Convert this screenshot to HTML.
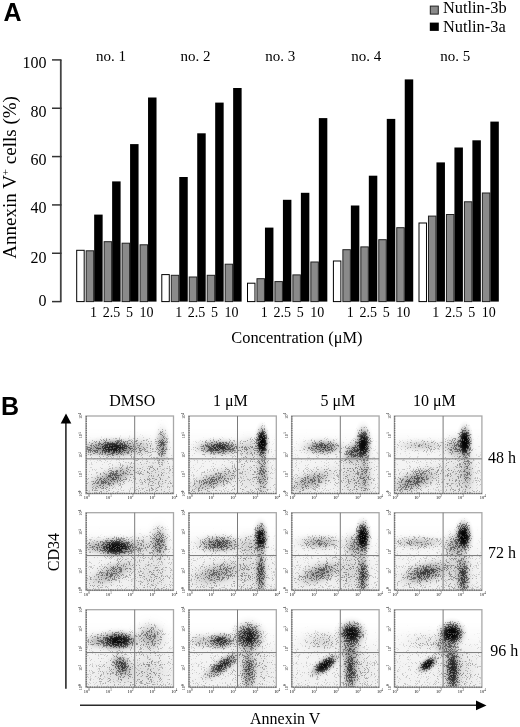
<!DOCTYPE html>
<html><head><meta charset="utf-8"><style>
html,body{margin:0;padding:0;background:#fff;}
body{width:520px;height:727px;overflow:hidden;position:relative;}
svg{position:absolute;left:0;top:0;filter:blur(0.3px);}
text{font-family:"Liberation Serif",serif;fill:#000;}
.sans{font-family:"Liberation Sans",sans-serif;font-weight:bold;}
</style></head><body>
<svg width="520" height="727" viewBox="0 0 520 727"><defs><filter id="bl" x="-5%" y="-5%" width="110%" height="110%"><feGaussianBlur stdDeviation="0.45"/></filter><radialGradient id="gg"><stop offset="0.0" stop-color="#000" stop-opacity="1.000"/><stop offset="0.1" stop-color="#000" stop-opacity="0.956"/><stop offset="0.2" stop-color="#000" stop-opacity="0.835"/><stop offset="0.3" stop-color="#000" stop-opacity="0.667"/><stop offset="0.4" stop-color="#000" stop-opacity="0.487"/><stop offset="0.5" stop-color="#000" stop-opacity="0.325"/><stop offset="0.6" stop-color="#000" stop-opacity="0.198"/><stop offset="0.7" stop-color="#000" stop-opacity="0.110"/><stop offset="0.8" stop-color="#000" stop-opacity="0.056"/><stop offset="0.9" stop-color="#000" stop-opacity="0.026"/><stop offset="1.0" stop-color="#000" stop-opacity="0.000"/></radialGradient><radialGradient id="d0"><stop offset="0.00" stop-opacity="0.049"/><stop offset="0.08" stop-opacity="0.047"/><stop offset="0.17" stop-opacity="0.041"/><stop offset="0.25" stop-opacity="0.034"/><stop offset="0.33" stop-opacity="0.025"/><stop offset="0.42" stop-opacity="0.017"/><stop offset="0.50" stop-opacity="0.011"/><stop offset="0.58" stop-opacity="0.006"/><stop offset="0.67" stop-opacity="0.003"/><stop offset="0.75" stop-opacity="0.002"/><stop offset="0.83" stop-opacity="0.001"/><stop offset="0.92" stop-opacity="0.000"/><stop offset="1.00" stop-opacity="0.000"/></radialGradient><radialGradient id="d1"><stop offset="0.00" stop-opacity="0.068"/><stop offset="0.08" stop-opacity="0.065"/><stop offset="0.17" stop-opacity="0.057"/><stop offset="0.25" stop-opacity="0.047"/><stop offset="0.33" stop-opacity="0.035"/><stop offset="0.42" stop-opacity="0.024"/><stop offset="0.50" stop-opacity="0.015"/><stop offset="0.58" stop-opacity="0.009"/><stop offset="0.67" stop-opacity="0.005"/><stop offset="0.75" stop-opacity="0.002"/><stop offset="0.83" stop-opacity="0.001"/><stop offset="0.92" stop-opacity="0.000"/><stop offset="1.00" stop-opacity="0.000"/></radialGradient><radialGradient id="d2"><stop offset="0.00" stop-opacity="0.093"/><stop offset="0.08" stop-opacity="0.090"/><stop offset="0.17" stop-opacity="0.079"/><stop offset="0.25" stop-opacity="0.065"/><stop offset="0.33" stop-opacity="0.048"/><stop offset="0.42" stop-opacity="0.033"/><stop offset="0.50" stop-opacity="0.021"/><stop offset="0.58" stop-opacity="0.012"/><stop offset="0.67" stop-opacity="0.006"/><stop offset="0.75" stop-opacity="0.003"/><stop offset="0.83" stop-opacity="0.001"/><stop offset="0.92" stop-opacity="0.001"/><stop offset="1.00" stop-opacity="0.000"/></radialGradient><radialGradient id="d3"><stop offset="0.00" stop-opacity="0.128"/><stop offset="0.08" stop-opacity="0.123"/><stop offset="0.17" stop-opacity="0.109"/><stop offset="0.25" stop-opacity="0.089"/><stop offset="0.33" stop-opacity="0.067"/><stop offset="0.42" stop-opacity="0.046"/><stop offset="0.50" stop-opacity="0.029"/><stop offset="0.58" stop-opacity="0.017"/><stop offset="0.67" stop-opacity="0.009"/><stop offset="0.75" stop-opacity="0.004"/><stop offset="0.83" stop-opacity="0.002"/><stop offset="0.92" stop-opacity="0.001"/><stop offset="1.00" stop-opacity="0.000"/></radialGradient><radialGradient id="d4"><stop offset="0.00" stop-opacity="0.175"/><stop offset="0.08" stop-opacity="0.168"/><stop offset="0.17" stop-opacity="0.150"/><stop offset="0.25" stop-opacity="0.123"/><stop offset="0.33" stop-opacity="0.093"/><stop offset="0.42" stop-opacity="0.064"/><stop offset="0.50" stop-opacity="0.041"/><stop offset="0.58" stop-opacity="0.024"/><stop offset="0.67" stop-opacity="0.013"/><stop offset="0.75" stop-opacity="0.006"/><stop offset="0.83" stop-opacity="0.003"/><stop offset="0.92" stop-opacity="0.001"/><stop offset="1.00" stop-opacity="0.000"/></radialGradient><radialGradient id="d5"><stop offset="0.00" stop-opacity="0.236"/><stop offset="0.08" stop-opacity="0.227"/><stop offset="0.17" stop-opacity="0.203"/><stop offset="0.25" stop-opacity="0.168"/><stop offset="0.33" stop-opacity="0.127"/><stop offset="0.42" stop-opacity="0.089"/><stop offset="0.50" stop-opacity="0.056"/><stop offset="0.58" stop-opacity="0.033"/><stop offset="0.67" stop-opacity="0.018"/><stop offset="0.75" stop-opacity="0.009"/><stop offset="0.83" stop-opacity="0.004"/><stop offset="0.92" stop-opacity="0.002"/><stop offset="1.00" stop-opacity="0.000"/></radialGradient><radialGradient id="d6"><stop offset="0.00" stop-opacity="0.314"/><stop offset="0.08" stop-opacity="0.303"/><stop offset="0.17" stop-opacity="0.272"/><stop offset="0.25" stop-opacity="0.226"/><stop offset="0.33" stop-opacity="0.174"/><stop offset="0.42" stop-opacity="0.122"/><stop offset="0.50" stop-opacity="0.078"/><stop offset="0.58" stop-opacity="0.046"/><stop offset="0.67" stop-opacity="0.024"/><stop offset="0.75" stop-opacity="0.012"/><stop offset="0.83" stop-opacity="0.005"/><stop offset="0.92" stop-opacity="0.002"/><stop offset="1.00" stop-opacity="0.000"/></radialGradient><radialGradient id="d7"><stop offset="0.00" stop-opacity="0.410"/><stop offset="0.08" stop-opacity="0.397"/><stop offset="0.17" stop-opacity="0.359"/><stop offset="0.25" stop-opacity="0.302"/><stop offset="0.33" stop-opacity="0.234"/><stop offset="0.42" stop-opacity="0.166"/><stop offset="0.50" stop-opacity="0.108"/><stop offset="0.58" stop-opacity="0.063"/><stop offset="0.67" stop-opacity="0.034"/><stop offset="0.75" stop-opacity="0.017"/><stop offset="0.83" stop-opacity="0.007"/><stop offset="0.92" stop-opacity="0.003"/><stop offset="1.00" stop-opacity="0.000"/></radialGradient><radialGradient id="d8"><stop offset="0.00" stop-opacity="0.522"/><stop offset="0.08" stop-opacity="0.507"/><stop offset="0.17" stop-opacity="0.463"/><stop offset="0.25" stop-opacity="0.395"/><stop offset="0.33" stop-opacity="0.312"/><stop offset="0.42" stop-opacity="0.225"/><stop offset="0.50" stop-opacity="0.147"/><stop offset="0.58" stop-opacity="0.088"/><stop offset="0.67" stop-opacity="0.047"/><stop offset="0.75" stop-opacity="0.023"/><stop offset="0.83" stop-opacity="0.010"/><stop offset="0.92" stop-opacity="0.004"/><stop offset="1.00" stop-opacity="0.000"/></radialGradient><radialGradient id="d9"><stop offset="0.00" stop-opacity="0.644"/><stop offset="0.08" stop-opacity="0.628"/><stop offset="0.17" stop-opacity="0.582"/><stop offset="0.25" stop-opacity="0.506"/><stop offset="0.33" stop-opacity="0.407"/><stop offset="0.42" stop-opacity="0.300"/><stop offset="0.50" stop-opacity="0.200"/><stop offset="0.58" stop-opacity="0.121"/><stop offset="0.67" stop-opacity="0.066"/><stop offset="0.75" stop-opacity="0.032"/><stop offset="0.83" stop-opacity="0.015"/><stop offset="0.92" stop-opacity="0.006"/><stop offset="1.00" stop-opacity="0.000"/></radialGradient><radialGradient id="d10"><stop offset="0.00" stop-opacity="0.765"/><stop offset="0.08" stop-opacity="0.750"/><stop offset="0.17" stop-opacity="0.705"/><stop offset="0.25" stop-opacity="0.627"/><stop offset="0.33" stop-opacity="0.519"/><stop offset="0.42" stop-opacity="0.393"/><stop offset="0.50" stop-opacity="0.269"/><stop offset="0.58" stop-opacity="0.165"/><stop offset="0.67" stop-opacity="0.091"/><stop offset="0.75" stop-opacity="0.045"/><stop offset="0.83" stop-opacity="0.020"/><stop offset="0.92" stop-opacity="0.008"/><stop offset="1.00" stop-opacity="0.000"/></radialGradient><radialGradient id="d11"><stop offset="0.00" stop-opacity="0.868"/><stop offset="0.08" stop-opacity="0.856"/><stop offset="0.17" stop-opacity="0.819"/><stop offset="0.25" stop-opacity="0.749"/><stop offset="0.33" stop-opacity="0.641"/><stop offset="0.42" stop-opacity="0.503"/><stop offset="0.50" stop-opacity="0.355"/><stop offset="0.58" stop-opacity="0.223"/><stop offset="0.67" stop-opacity="0.125"/><stop offset="0.75" stop-opacity="0.063"/><stop offset="0.83" stop-opacity="0.028"/><stop offset="0.92" stop-opacity="0.012"/><stop offset="1.00" stop-opacity="0.000"/></radialGradient><radialGradient id="d12"><stop offset="0.00" stop-opacity="0.941"/><stop offset="0.08" stop-opacity="0.934"/><stop offset="0.17" stop-opacity="0.908"/><stop offset="0.25" stop-opacity="0.855"/><stop offset="0.33" stop-opacity="0.762"/><stop offset="0.42" stop-opacity="0.624"/><stop offset="0.50" stop-opacity="0.458"/><stop offset="0.58" stop-opacity="0.297"/><stop offset="0.67" stop-opacity="0.170"/><stop offset="0.75" stop-opacity="0.086"/><stop offset="0.83" stop-opacity="0.039"/><stop offset="0.92" stop-opacity="0.016"/><stop offset="1.00" stop-opacity="0.000"/></radialGradient><radialGradient id="d13"><stop offset="0.00" stop-opacity="0.981"/><stop offset="0.08" stop-opacity="0.978"/><stop offset="0.17" stop-opacity="0.965"/><stop offset="0.25" stop-opacity="0.933"/><stop offset="0.33" stop-opacity="0.866"/><stop offset="0.42" stop-opacity="0.746"/><stop offset="0.50" stop-opacity="0.576"/><stop offset="0.58" stop-opacity="0.390"/><stop offset="0.67" stop-opacity="0.230"/><stop offset="0.75" stop-opacity="0.119"/><stop offset="0.83" stop-opacity="0.055"/><stop offset="0.92" stop-opacity="0.023"/><stop offset="1.00" stop-opacity="0.000"/></radialGradient><radialGradient id="d14"><stop offset="0.00" stop-opacity="0.996"/><stop offset="0.08" stop-opacity="0.995"/><stop offset="0.17" stop-opacity="0.991"/><stop offset="0.25" stop-opacity="0.977"/><stop offset="0.33" stop-opacity="0.940"/><stop offset="0.42" stop-opacity="0.853"/><stop offset="0.50" stop-opacity="0.699"/><stop offset="0.58" stop-opacity="0.499"/><stop offset="0.67" stop-opacity="0.306"/><stop offset="0.75" stop-opacity="0.162"/><stop offset="0.83" stop-opacity="0.076"/><stop offset="0.92" stop-opacity="0.032"/><stop offset="1.00" stop-opacity="0.000"/></radialGradient><radialGradient id="d15"><stop offset="0.00" stop-opacity="1.000"/><stop offset="0.08" stop-opacity="0.999"/><stop offset="0.17" stop-opacity="0.999"/><stop offset="0.25" stop-opacity="0.995"/><stop offset="0.33" stop-opacity="0.981"/><stop offset="0.42" stop-opacity="0.932"/><stop offset="0.50" stop-opacity="0.814"/><stop offset="0.58" stop-opacity="0.620"/><stop offset="0.67" stop-opacity="0.400"/><stop offset="0.75" stop-opacity="0.220"/><stop offset="0.83" stop-opacity="0.105"/><stop offset="0.92" stop-opacity="0.044"/><stop offset="1.00" stop-opacity="0.000"/></radialGradient><radialGradient id="d16"><stop offset="0.00" stop-opacity="1.000"/><stop offset="0.08" stop-opacity="1.000"/><stop offset="0.17" stop-opacity="1.000"/><stop offset="0.25" stop-opacity="0.999"/><stop offset="0.33" stop-opacity="0.996"/><stop offset="0.42" stop-opacity="0.977"/><stop offset="0.50" stop-opacity="0.905"/><stop offset="0.58" stop-opacity="0.742"/><stop offset="0.67" stop-opacity="0.511"/><stop offset="0.75" stop-opacity="0.293"/><stop offset="0.83" stop-opacity="0.143"/><stop offset="0.92" stop-opacity="0.061"/><stop offset="1.00" stop-opacity="0.000"/></radialGradient><radialGradient id="d17"><stop offset="0.00" stop-opacity="1.000"/><stop offset="0.08" stop-opacity="1.000"/><stop offset="0.17" stop-opacity="1.000"/><stop offset="0.25" stop-opacity="1.000"/><stop offset="0.33" stop-opacity="1.000"/><stop offset="0.42" stop-opacity="0.995"/><stop offset="0.50" stop-opacity="0.963"/><stop offset="0.58" stop-opacity="0.850"/><stop offset="0.67" stop-opacity="0.633"/><stop offset="0.75" stop-opacity="0.385"/><stop offset="0.83" stop-opacity="0.195"/><stop offset="0.92" stop-opacity="0.085"/><stop offset="1.00" stop-opacity="0.000"/></radialGradient><radialGradient id="d18"><stop offset="0.00" stop-opacity="1.000"/><stop offset="0.08" stop-opacity="1.000"/><stop offset="0.17" stop-opacity="1.000"/><stop offset="0.25" stop-opacity="1.000"/><stop offset="0.33" stop-opacity="1.000"/><stop offset="0.42" stop-opacity="0.999"/><stop offset="0.50" stop-opacity="0.990"/><stop offset="0.58" stop-opacity="0.930"/><stop offset="0.67" stop-opacity="0.754"/><stop offset="0.75" stop-opacity="0.494"/><stop offset="0.83" stop-opacity="0.262"/><stop offset="0.92" stop-opacity="0.117"/><stop offset="1.00" stop-opacity="0.000"/></radialGradient><radialGradient id="d19"><stop offset="0.00" stop-opacity="1.000"/><stop offset="0.08" stop-opacity="1.000"/><stop offset="0.17" stop-opacity="1.000"/><stop offset="0.25" stop-opacity="1.000"/><stop offset="0.33" stop-opacity="1.000"/><stop offset="0.42" stop-opacity="1.000"/><stop offset="0.50" stop-opacity="0.998"/><stop offset="0.58" stop-opacity="0.976"/><stop offset="0.67" stop-opacity="0.860"/><stop offset="0.75" stop-opacity="0.614"/><stop offset="0.83" stop-opacity="0.346"/><stop offset="0.92" stop-opacity="0.160"/><stop offset="1.00" stop-opacity="0.000"/></radialGradient><linearGradient id="bgg" x1="0" y1="0" x2="0" y2="1"><stop offset="0.15" stop-opacity="0"/><stop offset="0.55" stop-opacity="0.06"/><stop offset="1" stop-opacity="0.078"/></linearGradient><clipPath id="pc"><rect x="0" y="0" width="87.5" height="77.7"/></clipPath></defs>
<text class="sans" x="3.4" y="21.2" font-size="25">A</text>
<text class="sans" x="1.1" y="415.2" font-size="25">B</text>
<rect x="430.3" y="6.1" width="8" height="8" fill="#8a8a8a" stroke="#222" stroke-width="1"/>
<rect x="429.8" y="22.6" width="9" height="8.3" fill="#000"/>
<text x="442.9" y="13.3" font-size="16.4">Nutlin-3b</text>
<text x="442.9" y="32.0" font-size="16.4">Nutlin-3a</text>
<text x="16" y="177.4" font-size="19" transform="rotate(-90 16 177.4)" text-anchor="middle">Annexin V<tspan font-size="11" dy="-7">+</tspan><tspan dy="7"> cells (%)</tspan></text>
<text x="231.3" y="343.1" font-size="16.4">Concentration (μM)</text>
<rect x="76.70" y="250.30" width="7.48" height="51.30" fill="#fff" stroke="#000" stroke-width="1"/><rect x="86.18" y="250.80" width="7.48" height="50.80" fill="#8a8a8a" stroke="#222" stroke-width="1"/><rect x="94.16" y="214.60" width="8.48" height="87.00" fill="#000"/><rect x="104.14" y="241.70" width="7.48" height="59.90" fill="#8a8a8a" stroke="#222" stroke-width="1"/><rect x="112.12" y="181.40" width="8.48" height="120.20" fill="#000"/><rect x="122.10" y="243.20" width="7.48" height="58.40" fill="#8a8a8a" stroke="#222" stroke-width="1"/><rect x="130.08" y="144.10" width="8.48" height="157.50" fill="#000"/><rect x="140.06" y="244.80" width="7.48" height="56.80" fill="#8a8a8a" stroke="#222" stroke-width="1"/><rect x="148.04" y="97.50" width="8.48" height="204.10" fill="#000"/><text x="93.56" y="316.8" text-anchor="middle" font-size="14">1</text><text x="111.52" y="316.8" text-anchor="middle" font-size="14">2.5</text><text x="129.48" y="316.8" text-anchor="middle" font-size="14">5</text><text x="146.44" y="316.8" text-anchor="middle" font-size="14">10</text><rect x="161.80" y="274.60" width="7.48" height="27.00" fill="#fff" stroke="#000" stroke-width="1"/><rect x="171.28" y="275.30" width="7.48" height="26.30" fill="#8a8a8a" stroke="#222" stroke-width="1"/><rect x="179.26" y="177.00" width="8.48" height="124.60" fill="#000"/><rect x="189.24" y="277.00" width="7.48" height="24.60" fill="#8a8a8a" stroke="#222" stroke-width="1"/><rect x="197.22" y="133.30" width="8.48" height="168.30" fill="#000"/><rect x="207.20" y="275.30" width="7.48" height="26.30" fill="#8a8a8a" stroke="#222" stroke-width="1"/><rect x="215.18" y="102.60" width="8.48" height="199.00" fill="#000"/><rect x="225.16" y="264.20" width="7.48" height="37.40" fill="#8a8a8a" stroke="#222" stroke-width="1"/><rect x="233.14" y="88.00" width="8.48" height="213.60" fill="#000"/><text x="178.66" y="316.8" text-anchor="middle" font-size="14">1</text><text x="196.62" y="316.8" text-anchor="middle" font-size="14">2.5</text><text x="214.58" y="316.8" text-anchor="middle" font-size="14">5</text><text x="231.54" y="316.8" text-anchor="middle" font-size="14">10</text><rect x="247.50" y="283.20" width="7.48" height="18.40" fill="#fff" stroke="#000" stroke-width="1"/><rect x="256.98" y="278.70" width="7.48" height="22.90" fill="#8a8a8a" stroke="#222" stroke-width="1"/><rect x="264.96" y="227.60" width="8.48" height="74.00" fill="#000"/><rect x="274.94" y="281.60" width="7.48" height="20.00" fill="#8a8a8a" stroke="#222" stroke-width="1"/><rect x="282.92" y="199.80" width="8.48" height="101.80" fill="#000"/><rect x="292.90" y="274.90" width="7.48" height="26.70" fill="#8a8a8a" stroke="#222" stroke-width="1"/><rect x="300.88" y="192.80" width="8.48" height="108.80" fill="#000"/><rect x="310.86" y="262.00" width="7.48" height="39.60" fill="#8a8a8a" stroke="#222" stroke-width="1"/><rect x="318.84" y="118.10" width="8.48" height="183.50" fill="#000"/><text x="264.36" y="316.8" text-anchor="middle" font-size="14">1</text><text x="282.32" y="316.8" text-anchor="middle" font-size="14">2.5</text><text x="300.28" y="316.8" text-anchor="middle" font-size="14">5</text><text x="317.24" y="316.8" text-anchor="middle" font-size="14">10</text><rect x="333.40" y="261.00" width="7.48" height="40.60" fill="#fff" stroke="#000" stroke-width="1"/><rect x="342.88" y="249.70" width="7.48" height="51.90" fill="#8a8a8a" stroke="#222" stroke-width="1"/><rect x="350.86" y="205.50" width="8.48" height="96.10" fill="#000"/><rect x="360.84" y="246.90" width="7.48" height="54.70" fill="#8a8a8a" stroke="#222" stroke-width="1"/><rect x="368.82" y="175.70" width="8.48" height="125.90" fill="#000"/><rect x="378.80" y="239.70" width="7.48" height="61.90" fill="#8a8a8a" stroke="#222" stroke-width="1"/><rect x="386.78" y="118.90" width="8.48" height="182.70" fill="#000"/><rect x="396.76" y="227.70" width="7.48" height="73.90" fill="#8a8a8a" stroke="#222" stroke-width="1"/><rect x="404.74" y="79.40" width="8.48" height="222.20" fill="#000"/><text x="350.26" y="316.8" text-anchor="middle" font-size="14">1</text><text x="368.22" y="316.8" text-anchor="middle" font-size="14">2.5</text><text x="386.18" y="316.8" text-anchor="middle" font-size="14">5</text><text x="403.14" y="316.8" text-anchor="middle" font-size="14">10</text><rect x="419.00" y="223.00" width="7.48" height="78.60" fill="#fff" stroke="#000" stroke-width="1"/><rect x="428.48" y="216.10" width="7.48" height="85.50" fill="#8a8a8a" stroke="#222" stroke-width="1"/><rect x="436.46" y="162.40" width="8.48" height="139.20" fill="#000"/><rect x="446.44" y="214.50" width="7.48" height="87.10" fill="#8a8a8a" stroke="#222" stroke-width="1"/><rect x="454.42" y="147.50" width="8.48" height="154.10" fill="#000"/><rect x="464.40" y="201.80" width="7.48" height="99.80" fill="#8a8a8a" stroke="#222" stroke-width="1"/><rect x="472.38" y="140.30" width="8.48" height="161.30" fill="#000"/><rect x="482.36" y="193.00" width="7.48" height="108.60" fill="#8a8a8a" stroke="#222" stroke-width="1"/><rect x="490.34" y="121.60" width="8.48" height="180.00" fill="#000"/><text x="435.86" y="316.8" text-anchor="middle" font-size="14">1</text><text x="453.82" y="316.8" text-anchor="middle" font-size="14">2.5</text><text x="471.78" y="316.8" text-anchor="middle" font-size="14">5</text><text x="488.74" y="316.8" text-anchor="middle" font-size="14">10</text><path d="M60.8 59.90V301.60" stroke="#444" stroke-width="1.8" fill="none"/><path d="M52 301.60H61.5" stroke="#333" stroke-width="1.5" fill="none"/><path d="M52 253.26H61.5" stroke="#333" stroke-width="1.5" fill="none"/><path d="M52 204.92H61.5" stroke="#333" stroke-width="1.5" fill="none"/><path d="M52 156.58H61.5" stroke="#333" stroke-width="1.5" fill="none"/><path d="M52 108.24H61.5" stroke="#333" stroke-width="1.5" fill="none"/><path d="M52 59.90H61.5" stroke="#333" stroke-width="1.5" fill="none"/><text x="46.6" y="67.8" text-anchor="end" font-size="16">100</text><text x="46.6" y="116.6" text-anchor="end" font-size="16">80</text><text x="46.6" y="165.0" text-anchor="end" font-size="16">60</text><text x="46.6" y="213.4" text-anchor="end" font-size="16">40</text><text x="46.6" y="262.6" text-anchor="end" font-size="16">20</text><text x="46.6" y="305.6" text-anchor="end" font-size="16">0</text><text x="96.0" y="61" font-size="15">no. 1</text><text x="180.6" y="61" font-size="15">no. 2</text><text x="265.3" y="61" font-size="15">no. 3</text><text x="351.2" y="61" font-size="15">no. 4</text><text x="440.3" y="61" font-size="15">no. 5</text>
<g transform="translate(86.00,416.00)"><filter id="gr00" filterUnits="userSpaceOnUse" x="0" y="0" width="87.5" height="77.7" color-interpolation-filters="sRGB"><feComponentTransfer in="SourceGraphic" result="h"><feFuncA type="table" tableValues="0 0.225 0.325 0.425 0.525 0.625 0.725 0.825 0.925 1.000 1.000"/></feComponentTransfer><feTurbulence type="fractalNoise" baseFrequency="2.9" numOctaves="1" seed="11" result="t"/><feColorMatrix in="t" type="matrix" values="0 0 0 0 0 0 0 0 0 0 0 0 0 0 0 1 0 0 0 0" result="n0"/><feComponentTransfer in="n0" result="n"><feFuncA type="table" tableValues="0.000 0.000 0.000 0.000 0.000 0.000 0.000 0.001 0.002 0.005 0.009 0.017 0.030 0.049 0.079 0.119 0.173 0.240 0.319 0.407 0.500 0.593 0.681 0.760 0.827 0.881 0.921 0.951 0.970 0.983 0.991 0.995 0.998 0.999 1.000 1.000 1.000 1.000 1.000 1.000 1.000"/></feComponentTransfer><feComposite in="h" in2="n" operator="arithmetic" k1="0" k2="4.0" k3="4.0" k4="-4.0" result="d"/><feComposite in="d" in2="SourceGraphic" operator="arithmetic" k1="0" k2="0.32" k3="0.68" k4="0" result="m"/><feGaussianBlur in="m" stdDeviation="0.5"/></filter><g transform="translate(0.00,0.00)"><g clip-path="url(#pc)" filter="url(#gr00)"><ellipse cx="28.0" cy="31.9" rx="33.7" ry="13.6" fill="url(#d11)" transform="rotate(0 28.0 31.9)"/><ellipse cx="7.0" cy="32.6" rx="21.4" ry="13.6" fill="url(#d6)" transform="rotate(0 7.0 32.6)"/><ellipse cx="76.1" cy="28.7" rx="10.7" ry="27.2" fill="url(#d8)" transform="rotate(0 76.1 28.7)"/><ellipse cx="25.4" cy="62.2" rx="42.9" ry="15.0" fill="url(#d8)" transform="rotate(-22 25.4 62.2)"/><ellipse cx="68.2" cy="60.6" rx="42.9" ry="40.8" fill="url(#d3)" transform="rotate(0 68.2 60.6)"/><ellipse cx="54.2" cy="31.1" rx="30.6" ry="19.0" fill="url(#d5)" transform="rotate(0 54.2 31.1)"/><rect x="0" y="0" width="87.5" height="77.7" fill="url(#bgg)"/></g></g><rect x="0" y="0" width="87.5" height="77.7" fill="none" stroke="#a8a8a8" stroke-width="1.3"/><path d="M0.3 0V77.4H87.5" fill="none" stroke="#6a6a6a" stroke-width="1.2" stroke-dasharray="1.5 0.8"/><path d="M48.7 0V77.7M0 42.85H87.5" stroke="#7a7a7a" stroke-width="1" fill="none"/><text x="-3.6" y="77.7" font-size="4.4" fill="#8a8a8a" transform="rotate(-90 -3.6 77.7)" text-anchor="middle">10<tspan font-size="3" dy="-1.6">0</tspan></text><text x="0.8" y="82.9" font-size="4.4" fill="#8a8a8a" text-anchor="middle">10<tspan font-size="3" dy="-1.6">0</tspan></text><text x="-3.6" y="58.3" font-size="4.4" fill="#8a8a8a" transform="rotate(-90 -3.6 58.3)" text-anchor="middle">10<tspan font-size="3" dy="-1.6">1</tspan></text><text x="22.7" y="82.9" font-size="4.4" fill="#8a8a8a" text-anchor="middle">10<tspan font-size="3" dy="-1.6">1</tspan></text><text x="-3.6" y="38.9" font-size="4.4" fill="#8a8a8a" transform="rotate(-90 -3.6 38.9)" text-anchor="middle">10<tspan font-size="3" dy="-1.6">2</tspan></text><text x="44.5" y="82.9" font-size="4.4" fill="#8a8a8a" text-anchor="middle">10<tspan font-size="3" dy="-1.6">2</tspan></text><text x="-3.6" y="19.4" font-size="4.4" fill="#8a8a8a" transform="rotate(-90 -3.6 19.4)" text-anchor="middle">10<tspan font-size="3" dy="-1.6">3</tspan></text><text x="66.4" y="82.9" font-size="4.4" fill="#8a8a8a" text-anchor="middle">10<tspan font-size="3" dy="-1.6">3</tspan></text><text x="-3.6" y="0.0" font-size="4.4" fill="#8a8a8a" transform="rotate(-90 -3.6 0.0)" text-anchor="middle">10<tspan font-size="3" dy="-1.6">4</tspan></text><text x="88.3" y="82.9" font-size="4.4" fill="#8a8a8a" text-anchor="middle">10<tspan font-size="3" dy="-1.6">4</tspan></text></g><g transform="translate(188.80,416.00)"><filter id="gr01" filterUnits="userSpaceOnUse" x="0" y="0" width="87.5" height="77.7" color-interpolation-filters="sRGB"><feComponentTransfer in="SourceGraphic" result="h"><feFuncA type="table" tableValues="0 0.225 0.325 0.425 0.525 0.625 0.725 0.825 0.925 1.000 1.000"/></feComponentTransfer><feTurbulence type="fractalNoise" baseFrequency="2.9" numOctaves="1" seed="12" result="t"/><feColorMatrix in="t" type="matrix" values="0 0 0 0 0 0 0 0 0 0 0 0 0 0 0 1 0 0 0 0" result="n0"/><feComponentTransfer in="n0" result="n"><feFuncA type="table" tableValues="0.000 0.000 0.000 0.000 0.000 0.000 0.000 0.001 0.002 0.005 0.009 0.017 0.030 0.049 0.079 0.119 0.173 0.240 0.319 0.407 0.500 0.593 0.681 0.760 0.827 0.881 0.921 0.951 0.970 0.983 0.991 0.995 0.998 0.999 1.000 1.000 1.000 1.000 1.000 1.000 1.000"/></feComponentTransfer><feComposite in="h" in2="n" operator="arithmetic" k1="0" k2="4.0" k3="4.0" k4="-4.0" result="d"/><feComposite in="d" in2="SourceGraphic" operator="arithmetic" k1="0" k2="0.32" k3="0.68" k4="0" result="m"/><feGaussianBlur in="m" stdDeviation="0.5"/></filter><g transform="translate(0.20,0.00)"><g clip-path="url(#pc)" filter="url(#gr01)"><ellipse cx="30.1" cy="31.5" rx="33.7" ry="12.2" fill="url(#d10)" transform="rotate(0 30.1 31.5)"/><ellipse cx="73.1" cy="26.4" rx="8.6" ry="21.8" fill="url(#d13)" transform="rotate(0 73.1 26.4)"/><ellipse cx="73.5" cy="57.5" rx="10.7" ry="38.1" fill="url(#d7)" transform="rotate(0 73.5 57.5)"/><ellipse cx="61.2" cy="32.6" rx="24.5" ry="21.8" fill="url(#d5)" transform="rotate(0 61.2 32.6)"/><ellipse cx="24.5" cy="64.5" rx="42.9" ry="15.0" fill="url(#d7)" transform="rotate(-20 24.5 64.5)"/><ellipse cx="59.5" cy="60.6" rx="39.8" ry="38.1" fill="url(#d2)" transform="rotate(0 59.5 60.6)"/><rect x="0" y="0" width="87.5" height="77.7" fill="url(#bgg)"/></g></g><rect x="0" y="0" width="87.5" height="77.7" fill="none" stroke="#a8a8a8" stroke-width="1.3"/><path d="M0.3 0V77.4H87.5" fill="none" stroke="#6a6a6a" stroke-width="1.2" stroke-dasharray="1.5 0.8"/><path d="M48.7 0V77.7M0 42.85H87.5" stroke="#7a7a7a" stroke-width="1" fill="none"/><text x="-3.6" y="77.7" font-size="4.4" fill="#8a8a8a" transform="rotate(-90 -3.6 77.7)" text-anchor="middle">10<tspan font-size="3" dy="-1.6">0</tspan></text><text x="0.8" y="82.9" font-size="4.4" fill="#8a8a8a" text-anchor="middle">10<tspan font-size="3" dy="-1.6">0</tspan></text><text x="-3.6" y="58.3" font-size="4.4" fill="#8a8a8a" transform="rotate(-90 -3.6 58.3)" text-anchor="middle">10<tspan font-size="3" dy="-1.6">1</tspan></text><text x="22.7" y="82.9" font-size="4.4" fill="#8a8a8a" text-anchor="middle">10<tspan font-size="3" dy="-1.6">1</tspan></text><text x="-3.6" y="38.9" font-size="4.4" fill="#8a8a8a" transform="rotate(-90 -3.6 38.9)" text-anchor="middle">10<tspan font-size="3" dy="-1.6">2</tspan></text><text x="44.5" y="82.9" font-size="4.4" fill="#8a8a8a" text-anchor="middle">10<tspan font-size="3" dy="-1.6">2</tspan></text><text x="-3.6" y="19.4" font-size="4.4" fill="#8a8a8a" transform="rotate(-90 -3.6 19.4)" text-anchor="middle">10<tspan font-size="3" dy="-1.6">3</tspan></text><text x="66.4" y="82.9" font-size="4.4" fill="#8a8a8a" text-anchor="middle">10<tspan font-size="3" dy="-1.6">3</tspan></text><text x="-3.6" y="0.0" font-size="4.4" fill="#8a8a8a" transform="rotate(-90 -3.6 0.0)" text-anchor="middle">10<tspan font-size="3" dy="-1.6">4</tspan></text><text x="88.3" y="82.9" font-size="4.4" fill="#8a8a8a" text-anchor="middle">10<tspan font-size="3" dy="-1.6">4</tspan></text></g><g transform="translate(291.60,416.00)"><filter id="gr02" filterUnits="userSpaceOnUse" x="0" y="0" width="87.5" height="77.7" color-interpolation-filters="sRGB"><feComponentTransfer in="SourceGraphic" result="h"><feFuncA type="table" tableValues="0 0.225 0.325 0.425 0.525 0.625 0.725 0.825 0.925 1.000 1.000"/></feComponentTransfer><feTurbulence type="fractalNoise" baseFrequency="2.9" numOctaves="1" seed="13" result="t"/><feColorMatrix in="t" type="matrix" values="0 0 0 0 0 0 0 0 0 0 0 0 0 0 0 1 0 0 0 0" result="n0"/><feComponentTransfer in="n0" result="n"><feFuncA type="table" tableValues="0.000 0.000 0.000 0.000 0.000 0.000 0.000 0.001 0.002 0.005 0.009 0.017 0.030 0.049 0.079 0.119 0.173 0.240 0.319 0.407 0.500 0.593 0.681 0.760 0.827 0.881 0.921 0.951 0.970 0.983 0.991 0.995 0.998 0.999 1.000 1.000 1.000 1.000 1.000 1.000 1.000"/></feComponentTransfer><feComposite in="h" in2="n" operator="arithmetic" k1="0" k2="4.0" k3="4.0" k4="-4.0" result="d"/><feComposite in="d" in2="SourceGraphic" operator="arithmetic" k1="0" k2="0.32" k3="0.68" k4="0" result="m"/><feGaussianBlur in="m" stdDeviation="0.5"/></filter><g transform="translate(0.40,0.00)"><g clip-path="url(#pc)" filter="url(#gr02)"><ellipse cx="31.1" cy="31.1" rx="30.6" ry="12.2" fill="url(#d9)" transform="rotate(0 31.1 31.1)"/><ellipse cx="71.3" cy="28.0" rx="10.7" ry="24.5" fill="url(#d12)" transform="rotate(0 71.3 28.0)"/><ellipse cx="63.0" cy="35.7" rx="21.4" ry="15.0" fill="url(#d9)" transform="rotate(-40 63.0 35.7)"/><ellipse cx="19.2" cy="64.5" rx="39.8" ry="15.0" fill="url(#d7)" transform="rotate(-20 19.2 64.5)"/><ellipse cx="72.6" cy="59.1" rx="12.2" ry="38.1" fill="url(#d6)" transform="rotate(0 72.6 59.1)"/><ellipse cx="61.2" cy="60.6" rx="30.6" ry="38.1" fill="url(#d4)" transform="rotate(0 61.2 60.6)"/><rect x="0" y="0" width="87.5" height="77.7" fill="url(#bgg)"/></g></g><rect x="0" y="0" width="87.5" height="77.7" fill="none" stroke="#a8a8a8" stroke-width="1.3"/><path d="M0.3 0V77.4H87.5" fill="none" stroke="#6a6a6a" stroke-width="1.2" stroke-dasharray="1.5 0.8"/><path d="M48.7 0V77.7M0 42.85H87.5" stroke="#7a7a7a" stroke-width="1" fill="none"/><text x="-3.6" y="77.7" font-size="4.4" fill="#8a8a8a" transform="rotate(-90 -3.6 77.7)" text-anchor="middle">10<tspan font-size="3" dy="-1.6">0</tspan></text><text x="0.8" y="82.9" font-size="4.4" fill="#8a8a8a" text-anchor="middle">10<tspan font-size="3" dy="-1.6">0</tspan></text><text x="-3.6" y="58.3" font-size="4.4" fill="#8a8a8a" transform="rotate(-90 -3.6 58.3)" text-anchor="middle">10<tspan font-size="3" dy="-1.6">1</tspan></text><text x="22.7" y="82.9" font-size="4.4" fill="#8a8a8a" text-anchor="middle">10<tspan font-size="3" dy="-1.6">1</tspan></text><text x="-3.6" y="38.9" font-size="4.4" fill="#8a8a8a" transform="rotate(-90 -3.6 38.9)" text-anchor="middle">10<tspan font-size="3" dy="-1.6">2</tspan></text><text x="44.5" y="82.9" font-size="4.4" fill="#8a8a8a" text-anchor="middle">10<tspan font-size="3" dy="-1.6">2</tspan></text><text x="-3.6" y="19.4" font-size="4.4" fill="#8a8a8a" transform="rotate(-90 -3.6 19.4)" text-anchor="middle">10<tspan font-size="3" dy="-1.6">3</tspan></text><text x="66.4" y="82.9" font-size="4.4" fill="#8a8a8a" text-anchor="middle">10<tspan font-size="3" dy="-1.6">3</tspan></text><text x="-3.6" y="0.0" font-size="4.4" fill="#8a8a8a" transform="rotate(-90 -3.6 0.0)" text-anchor="middle">10<tspan font-size="3" dy="-1.6">4</tspan></text><text x="88.3" y="82.9" font-size="4.4" fill="#8a8a8a" text-anchor="middle">10<tspan font-size="3" dy="-1.6">4</tspan></text></g><g transform="translate(394.40,416.00)"><filter id="gr03" filterUnits="userSpaceOnUse" x="0" y="0" width="87.5" height="77.7" color-interpolation-filters="sRGB"><feComponentTransfer in="SourceGraphic" result="h"><feFuncA type="table" tableValues="0 0.225 0.325 0.425 0.525 0.625 0.725 0.825 0.925 1.000 1.000"/></feComponentTransfer><feTurbulence type="fractalNoise" baseFrequency="2.9" numOctaves="1" seed="14" result="t"/><feColorMatrix in="t" type="matrix" values="0 0 0 0 0 0 0 0 0 0 0 0 0 0 0 1 0 0 0 0" result="n0"/><feComponentTransfer in="n0" result="n"><feFuncA type="table" tableValues="0.000 0.000 0.000 0.000 0.000 0.000 0.000 0.001 0.002 0.005 0.009 0.017 0.030 0.049 0.079 0.119 0.173 0.240 0.319 0.407 0.500 0.593 0.681 0.760 0.827 0.881 0.921 0.951 0.970 0.983 0.991 0.995 0.998 0.999 1.000 1.000 1.000 1.000 1.000 1.000 1.000"/></feComponentTransfer><feComposite in="h" in2="n" operator="arithmetic" k1="0" k2="4.0" k3="4.0" k4="-4.0" result="d"/><feComposite in="d" in2="SourceGraphic" operator="arithmetic" k1="0" k2="0.32" k3="0.68" k4="0" result="m"/><feGaussianBlur in="m" stdDeviation="0.5"/></filter><g transform="translate(-0.40,0.00)"><g clip-path="url(#pc)" filter="url(#gr03)"><ellipse cx="28.0" cy="29.5" rx="45.9" ry="10.9" fill="url(#d5)" transform="rotate(0 28.0 29.5)"/><ellipse cx="70.9" cy="26.0" rx="9.2" ry="21.8" fill="url(#d13)" transform="rotate(0 70.9 26.0)"/><ellipse cx="63.0" cy="31.1" rx="21.4" ry="19.0" fill="url(#d7)" transform="rotate(0 63.0 31.1)"/><ellipse cx="72.6" cy="55.9" rx="12.2" ry="38.1" fill="url(#d6)" transform="rotate(0 72.6 55.9)"/><ellipse cx="21.0" cy="64.5" rx="39.8" ry="16.3" fill="url(#d8)" transform="rotate(-20 21.0 64.5)"/><ellipse cx="61.2" cy="60.6" rx="36.8" ry="40.8" fill="url(#d3)" transform="rotate(0 61.2 60.6)"/><rect x="0" y="0" width="87.5" height="77.7" fill="url(#bgg)"/></g></g><rect x="0" y="0" width="87.5" height="77.7" fill="none" stroke="#a8a8a8" stroke-width="1.3"/><path d="M0.3 0V77.4H87.5" fill="none" stroke="#6a6a6a" stroke-width="1.2" stroke-dasharray="1.5 0.8"/><path d="M48.7 0V77.7M0 42.85H87.5" stroke="#7a7a7a" stroke-width="1" fill="none"/><text x="-3.6" y="77.7" font-size="4.4" fill="#8a8a8a" transform="rotate(-90 -3.6 77.7)" text-anchor="middle">10<tspan font-size="3" dy="-1.6">0</tspan></text><text x="0.8" y="82.9" font-size="4.4" fill="#8a8a8a" text-anchor="middle">10<tspan font-size="3" dy="-1.6">0</tspan></text><text x="-3.6" y="58.3" font-size="4.4" fill="#8a8a8a" transform="rotate(-90 -3.6 58.3)" text-anchor="middle">10<tspan font-size="3" dy="-1.6">1</tspan></text><text x="22.7" y="82.9" font-size="4.4" fill="#8a8a8a" text-anchor="middle">10<tspan font-size="3" dy="-1.6">1</tspan></text><text x="-3.6" y="38.9" font-size="4.4" fill="#8a8a8a" transform="rotate(-90 -3.6 38.9)" text-anchor="middle">10<tspan font-size="3" dy="-1.6">2</tspan></text><text x="44.5" y="82.9" font-size="4.4" fill="#8a8a8a" text-anchor="middle">10<tspan font-size="3" dy="-1.6">2</tspan></text><text x="-3.6" y="19.4" font-size="4.4" fill="#8a8a8a" transform="rotate(-90 -3.6 19.4)" text-anchor="middle">10<tspan font-size="3" dy="-1.6">3</tspan></text><text x="66.4" y="82.9" font-size="4.4" fill="#8a8a8a" text-anchor="middle">10<tspan font-size="3" dy="-1.6">3</tspan></text><text x="-3.6" y="0.0" font-size="4.4" fill="#8a8a8a" transform="rotate(-90 -3.6 0.0)" text-anchor="middle">10<tspan font-size="3" dy="-1.6">4</tspan></text><text x="88.3" y="82.9" font-size="4.4" fill="#8a8a8a" text-anchor="middle">10<tspan font-size="3" dy="-1.6">4</tspan></text></g><g transform="translate(86.00,512.70)"><filter id="gr10" filterUnits="userSpaceOnUse" x="0" y="0" width="87.5" height="77.7" color-interpolation-filters="sRGB"><feComponentTransfer in="SourceGraphic" result="h"><feFuncA type="table" tableValues="0 0.225 0.325 0.425 0.525 0.625 0.725 0.825 0.925 1.000 1.000"/></feComponentTransfer><feTurbulence type="fractalNoise" baseFrequency="2.9" numOctaves="1" seed="15" result="t"/><feColorMatrix in="t" type="matrix" values="0 0 0 0 0 0 0 0 0 0 0 0 0 0 0 1 0 0 0 0" result="n0"/><feComponentTransfer in="n0" result="n"><feFuncA type="table" tableValues="0.000 0.000 0.000 0.000 0.000 0.000 0.000 0.001 0.002 0.005 0.009 0.017 0.030 0.049 0.079 0.119 0.173 0.240 0.319 0.407 0.500 0.593 0.681 0.760 0.827 0.881 0.921 0.951 0.970 0.983 0.991 0.995 0.998 0.999 1.000 1.000 1.000 1.000 1.000 1.000 1.000"/></feComponentTransfer><feComposite in="h" in2="n" operator="arithmetic" k1="0" k2="4.0" k3="4.0" k4="-4.0" result="d"/><feComposite in="d" in2="SourceGraphic" operator="arithmetic" k1="0" k2="0.32" k3="0.68" k4="0" result="m"/><feGaussianBlur in="m" stdDeviation="0.5"/></filter><g transform="translate(0.00,0.30)"><g clip-path="url(#pc)" filter="url(#gr10)"><ellipse cx="30.1" cy="34.2" rx="27.6" ry="13.6" fill="url(#d12)" transform="rotate(0 30.1 34.2)"/><ellipse cx="8.8" cy="33.4" rx="21.4" ry="13.6" fill="url(#d6)" transform="rotate(0 8.8 33.4)"/><ellipse cx="73.1" cy="29.5" rx="15.3" ry="27.2" fill="url(#d8)" transform="rotate(0 73.1 29.5)"/><ellipse cx="26.2" cy="59.8" rx="42.9" ry="16.3" fill="url(#d7)" transform="rotate(-25 26.2 59.8)"/><ellipse cx="65.6" cy="60.6" rx="39.8" ry="38.1" fill="url(#d3)" transform="rotate(0 65.6 60.6)"/><ellipse cx="54.2" cy="32.6" rx="30.6" ry="19.0" fill="url(#d5)" transform="rotate(0 54.2 32.6)"/><rect x="0" y="0" width="87.5" height="77.7" fill="url(#bgg)"/></g></g><rect x="0" y="0" width="87.5" height="77.7" fill="none" stroke="#a8a8a8" stroke-width="1.3"/><path d="M0.3 0V77.4H87.5" fill="none" stroke="#6a6a6a" stroke-width="1.2" stroke-dasharray="1.5 0.8"/><path d="M48.7 0V77.7M0 42.85H87.5" stroke="#7a7a7a" stroke-width="1" fill="none"/><text x="-3.6" y="77.7" font-size="4.4" fill="#8a8a8a" transform="rotate(-90 -3.6 77.7)" text-anchor="middle">10<tspan font-size="3" dy="-1.6">0</tspan></text><text x="0.8" y="82.9" font-size="4.4" fill="#8a8a8a" text-anchor="middle">10<tspan font-size="3" dy="-1.6">0</tspan></text><text x="-3.6" y="58.3" font-size="4.4" fill="#8a8a8a" transform="rotate(-90 -3.6 58.3)" text-anchor="middle">10<tspan font-size="3" dy="-1.6">1</tspan></text><text x="22.7" y="82.9" font-size="4.4" fill="#8a8a8a" text-anchor="middle">10<tspan font-size="3" dy="-1.6">1</tspan></text><text x="-3.6" y="38.9" font-size="4.4" fill="#8a8a8a" transform="rotate(-90 -3.6 38.9)" text-anchor="middle">10<tspan font-size="3" dy="-1.6">2</tspan></text><text x="44.5" y="82.9" font-size="4.4" fill="#8a8a8a" text-anchor="middle">10<tspan font-size="3" dy="-1.6">2</tspan></text><text x="-3.6" y="19.4" font-size="4.4" fill="#8a8a8a" transform="rotate(-90 -3.6 19.4)" text-anchor="middle">10<tspan font-size="3" dy="-1.6">3</tspan></text><text x="66.4" y="82.9" font-size="4.4" fill="#8a8a8a" text-anchor="middle">10<tspan font-size="3" dy="-1.6">3</tspan></text><text x="-3.6" y="0.0" font-size="4.4" fill="#8a8a8a" transform="rotate(-90 -3.6 0.0)" text-anchor="middle">10<tspan font-size="3" dy="-1.6">4</tspan></text><text x="88.3" y="82.9" font-size="4.4" fill="#8a8a8a" text-anchor="middle">10<tspan font-size="3" dy="-1.6">4</tspan></text></g><g transform="translate(188.80,512.70)"><filter id="gr11" filterUnits="userSpaceOnUse" x="0" y="0" width="87.5" height="77.7" color-interpolation-filters="sRGB"><feComponentTransfer in="SourceGraphic" result="h"><feFuncA type="table" tableValues="0 0.225 0.325 0.425 0.525 0.625 0.725 0.825 0.925 1.000 1.000"/></feComponentTransfer><feTurbulence type="fractalNoise" baseFrequency="2.9" numOctaves="1" seed="16" result="t"/><feColorMatrix in="t" type="matrix" values="0 0 0 0 0 0 0 0 0 0 0 0 0 0 0 1 0 0 0 0" result="n0"/><feComponentTransfer in="n0" result="n"><feFuncA type="table" tableValues="0.000 0.000 0.000 0.000 0.000 0.000 0.000 0.001 0.002 0.005 0.009 0.017 0.030 0.049 0.079 0.119 0.173 0.240 0.319 0.407 0.500 0.593 0.681 0.760 0.827 0.881 0.921 0.951 0.970 0.983 0.991 0.995 0.998 0.999 1.000 1.000 1.000 1.000 1.000 1.000 1.000"/></feComponentTransfer><feComposite in="h" in2="n" operator="arithmetic" k1="0" k2="4.0" k3="4.0" k4="-4.0" result="d"/><feComposite in="d" in2="SourceGraphic" operator="arithmetic" k1="0" k2="0.32" k3="0.68" k4="0" result="m"/><feGaussianBlur in="m" stdDeviation="0.5"/></filter><g transform="translate(0.20,0.30)"><g clip-path="url(#pc)" filter="url(#gr11)"><ellipse cx="30.1" cy="31.1" rx="33.7" ry="13.6" fill="url(#d9)" transform="rotate(0 30.1 31.1)"/><ellipse cx="71.8" cy="24.9" rx="9.8" ry="21.8" fill="url(#d12)" transform="rotate(0 71.8 24.9)"/><ellipse cx="71.8" cy="59.8" rx="9.2" ry="38.1" fill="url(#d9)" transform="rotate(0 71.8 59.8)"/><ellipse cx="61.2" cy="32.6" rx="24.5" ry="21.8" fill="url(#d5)" transform="rotate(0 61.2 32.6)"/><ellipse cx="28.0" cy="60.6" rx="42.9" ry="19.0" fill="url(#d7)" transform="rotate(-15 28.0 60.6)"/><ellipse cx="59.5" cy="58.3" rx="36.8" ry="40.8" fill="url(#d3)" transform="rotate(0 59.5 58.3)"/><rect x="0" y="0" width="87.5" height="77.7" fill="url(#bgg)"/></g></g><rect x="0" y="0" width="87.5" height="77.7" fill="none" stroke="#a8a8a8" stroke-width="1.3"/><path d="M0.3 0V77.4H87.5" fill="none" stroke="#6a6a6a" stroke-width="1.2" stroke-dasharray="1.5 0.8"/><path d="M48.7 0V77.7M0 42.85H87.5" stroke="#7a7a7a" stroke-width="1" fill="none"/><text x="-3.6" y="77.7" font-size="4.4" fill="#8a8a8a" transform="rotate(-90 -3.6 77.7)" text-anchor="middle">10<tspan font-size="3" dy="-1.6">0</tspan></text><text x="0.8" y="82.9" font-size="4.4" fill="#8a8a8a" text-anchor="middle">10<tspan font-size="3" dy="-1.6">0</tspan></text><text x="-3.6" y="58.3" font-size="4.4" fill="#8a8a8a" transform="rotate(-90 -3.6 58.3)" text-anchor="middle">10<tspan font-size="3" dy="-1.6">1</tspan></text><text x="22.7" y="82.9" font-size="4.4" fill="#8a8a8a" text-anchor="middle">10<tspan font-size="3" dy="-1.6">1</tspan></text><text x="-3.6" y="38.9" font-size="4.4" fill="#8a8a8a" transform="rotate(-90 -3.6 38.9)" text-anchor="middle">10<tspan font-size="3" dy="-1.6">2</tspan></text><text x="44.5" y="82.9" font-size="4.4" fill="#8a8a8a" text-anchor="middle">10<tspan font-size="3" dy="-1.6">2</tspan></text><text x="-3.6" y="19.4" font-size="4.4" fill="#8a8a8a" transform="rotate(-90 -3.6 19.4)" text-anchor="middle">10<tspan font-size="3" dy="-1.6">3</tspan></text><text x="66.4" y="82.9" font-size="4.4" fill="#8a8a8a" text-anchor="middle">10<tspan font-size="3" dy="-1.6">3</tspan></text><text x="-3.6" y="0.0" font-size="4.4" fill="#8a8a8a" transform="rotate(-90 -3.6 0.0)" text-anchor="middle">10<tspan font-size="3" dy="-1.6">4</tspan></text><text x="88.3" y="82.9" font-size="4.4" fill="#8a8a8a" text-anchor="middle">10<tspan font-size="3" dy="-1.6">4</tspan></text></g><g transform="translate(291.60,512.70)"><filter id="gr12" filterUnits="userSpaceOnUse" x="0" y="0" width="87.5" height="77.7" color-interpolation-filters="sRGB"><feComponentTransfer in="SourceGraphic" result="h"><feFuncA type="table" tableValues="0 0.225 0.325 0.425 0.525 0.625 0.725 0.825 0.925 1.000 1.000"/></feComponentTransfer><feTurbulence type="fractalNoise" baseFrequency="2.9" numOctaves="1" seed="17" result="t"/><feColorMatrix in="t" type="matrix" values="0 0 0 0 0 0 0 0 0 0 0 0 0 0 0 1 0 0 0 0" result="n0"/><feComponentTransfer in="n0" result="n"><feFuncA type="table" tableValues="0.000 0.000 0.000 0.000 0.000 0.000 0.000 0.001 0.002 0.005 0.009 0.017 0.030 0.049 0.079 0.119 0.173 0.240 0.319 0.407 0.500 0.593 0.681 0.760 0.827 0.881 0.921 0.951 0.970 0.983 0.991 0.995 0.998 0.999 1.000 1.000 1.000 1.000 1.000 1.000 1.000"/></feComponentTransfer><feComposite in="h" in2="n" operator="arithmetic" k1="0" k2="4.0" k3="4.0" k4="-4.0" result="d"/><feComposite in="d" in2="SourceGraphic" operator="arithmetic" k1="0" k2="0.32" k3="0.68" k4="0" result="m"/><feGaussianBlur in="m" stdDeviation="0.5"/></filter><g transform="translate(0.40,0.30)"><g clip-path="url(#pc)" filter="url(#gr12)"><ellipse cx="28.0" cy="29.5" rx="36.8" ry="12.2" fill="url(#d7)" transform="rotate(0 28.0 29.5)"/><ellipse cx="70.9" cy="24.1" rx="9.8" ry="21.8" fill="url(#d13)" transform="rotate(0 70.9 24.1)"/><ellipse cx="63.0" cy="32.6" rx="18.4" ry="21.8" fill="url(#d7)" transform="rotate(0 63.0 32.6)"/><ellipse cx="28.0" cy="59.8" rx="36.8" ry="16.3" fill="url(#d8)" transform="rotate(-20 28.0 59.8)"/><ellipse cx="70.9" cy="62.2" rx="9.2" ry="35.4" fill="url(#d9)" transform="rotate(0 70.9 62.2)"/><ellipse cx="59.5" cy="58.3" rx="30.6" ry="38.1" fill="url(#d4)" transform="rotate(0 59.5 58.3)"/><rect x="0" y="0" width="87.5" height="77.7" fill="url(#bgg)"/></g></g><rect x="0" y="0" width="87.5" height="77.7" fill="none" stroke="#a8a8a8" stroke-width="1.3"/><path d="M0.3 0V77.4H87.5" fill="none" stroke="#6a6a6a" stroke-width="1.2" stroke-dasharray="1.5 0.8"/><path d="M48.7 0V77.7M0 42.85H87.5" stroke="#7a7a7a" stroke-width="1" fill="none"/><text x="-3.6" y="77.7" font-size="4.4" fill="#8a8a8a" transform="rotate(-90 -3.6 77.7)" text-anchor="middle">10<tspan font-size="3" dy="-1.6">0</tspan></text><text x="0.8" y="82.9" font-size="4.4" fill="#8a8a8a" text-anchor="middle">10<tspan font-size="3" dy="-1.6">0</tspan></text><text x="-3.6" y="58.3" font-size="4.4" fill="#8a8a8a" transform="rotate(-90 -3.6 58.3)" text-anchor="middle">10<tspan font-size="3" dy="-1.6">1</tspan></text><text x="22.7" y="82.9" font-size="4.4" fill="#8a8a8a" text-anchor="middle">10<tspan font-size="3" dy="-1.6">1</tspan></text><text x="-3.6" y="38.9" font-size="4.4" fill="#8a8a8a" transform="rotate(-90 -3.6 38.9)" text-anchor="middle">10<tspan font-size="3" dy="-1.6">2</tspan></text><text x="44.5" y="82.9" font-size="4.4" fill="#8a8a8a" text-anchor="middle">10<tspan font-size="3" dy="-1.6">2</tspan></text><text x="-3.6" y="19.4" font-size="4.4" fill="#8a8a8a" transform="rotate(-90 -3.6 19.4)" text-anchor="middle">10<tspan font-size="3" dy="-1.6">3</tspan></text><text x="66.4" y="82.9" font-size="4.4" fill="#8a8a8a" text-anchor="middle">10<tspan font-size="3" dy="-1.6">3</tspan></text><text x="-3.6" y="0.0" font-size="4.4" fill="#8a8a8a" transform="rotate(-90 -3.6 0.0)" text-anchor="middle">10<tspan font-size="3" dy="-1.6">4</tspan></text><text x="88.3" y="82.9" font-size="4.4" fill="#8a8a8a" text-anchor="middle">10<tspan font-size="3" dy="-1.6">4</tspan></text></g><g transform="translate(394.40,512.70)"><filter id="gr13" filterUnits="userSpaceOnUse" x="0" y="0" width="87.5" height="77.7" color-interpolation-filters="sRGB"><feComponentTransfer in="SourceGraphic" result="h"><feFuncA type="table" tableValues="0 0.225 0.325 0.425 0.525 0.625 0.725 0.825 0.925 1.000 1.000"/></feComponentTransfer><feTurbulence type="fractalNoise" baseFrequency="2.9" numOctaves="1" seed="18" result="t"/><feColorMatrix in="t" type="matrix" values="0 0 0 0 0 0 0 0 0 0 0 0 0 0 0 1 0 0 0 0" result="n0"/><feComponentTransfer in="n0" result="n"><feFuncA type="table" tableValues="0.000 0.000 0.000 0.000 0.000 0.000 0.000 0.001 0.002 0.005 0.009 0.017 0.030 0.049 0.079 0.119 0.173 0.240 0.319 0.407 0.500 0.593 0.681 0.760 0.827 0.881 0.921 0.951 0.970 0.983 0.991 0.995 0.998 0.999 1.000 1.000 1.000 1.000 1.000 1.000 1.000"/></feComponentTransfer><feComposite in="h" in2="n" operator="arithmetic" k1="0" k2="4.0" k3="4.0" k4="-4.0" result="d"/><feComposite in="d" in2="SourceGraphic" operator="arithmetic" k1="0" k2="0.32" k3="0.68" k4="0" result="m"/><feGaussianBlur in="m" stdDeviation="0.5"/></filter><g transform="translate(-0.40,0.30)"><g clip-path="url(#pc)" filter="url(#gr13)"><ellipse cx="24.5" cy="29.5" rx="45.9" ry="10.9" fill="url(#d6)" transform="rotate(0 24.5 29.5)"/><ellipse cx="69.6" cy="23.3" rx="11.0" ry="20.4" fill="url(#d13)" transform="rotate(0 69.6 23.3)"/><ellipse cx="61.2" cy="32.6" rx="18.4" ry="21.8" fill="url(#d7)" transform="rotate(0 61.2 32.6)"/><ellipse cx="31.5" cy="59.8" rx="36.8" ry="16.3" fill="url(#d9)" transform="rotate(-15 31.5 59.8)"/><ellipse cx="69.1" cy="63.7" rx="10.7" ry="35.4" fill="url(#d9)" transform="rotate(0 69.1 63.7)"/><ellipse cx="61.2" cy="55.9" rx="30.6" ry="40.8" fill="url(#d4)" transform="rotate(0 61.2 55.9)"/><rect x="0" y="0" width="87.5" height="77.7" fill="url(#bgg)"/></g></g><rect x="0" y="0" width="87.5" height="77.7" fill="none" stroke="#a8a8a8" stroke-width="1.3"/><path d="M0.3 0V77.4H87.5" fill="none" stroke="#6a6a6a" stroke-width="1.2" stroke-dasharray="1.5 0.8"/><path d="M48.7 0V77.7M0 42.85H87.5" stroke="#7a7a7a" stroke-width="1" fill="none"/><text x="-3.6" y="77.7" font-size="4.4" fill="#8a8a8a" transform="rotate(-90 -3.6 77.7)" text-anchor="middle">10<tspan font-size="3" dy="-1.6">0</tspan></text><text x="0.8" y="82.9" font-size="4.4" fill="#8a8a8a" text-anchor="middle">10<tspan font-size="3" dy="-1.6">0</tspan></text><text x="-3.6" y="58.3" font-size="4.4" fill="#8a8a8a" transform="rotate(-90 -3.6 58.3)" text-anchor="middle">10<tspan font-size="3" dy="-1.6">1</tspan></text><text x="22.7" y="82.9" font-size="4.4" fill="#8a8a8a" text-anchor="middle">10<tspan font-size="3" dy="-1.6">1</tspan></text><text x="-3.6" y="38.9" font-size="4.4" fill="#8a8a8a" transform="rotate(-90 -3.6 38.9)" text-anchor="middle">10<tspan font-size="3" dy="-1.6">2</tspan></text><text x="44.5" y="82.9" font-size="4.4" fill="#8a8a8a" text-anchor="middle">10<tspan font-size="3" dy="-1.6">2</tspan></text><text x="-3.6" y="19.4" font-size="4.4" fill="#8a8a8a" transform="rotate(-90 -3.6 19.4)" text-anchor="middle">10<tspan font-size="3" dy="-1.6">3</tspan></text><text x="66.4" y="82.9" font-size="4.4" fill="#8a8a8a" text-anchor="middle">10<tspan font-size="3" dy="-1.6">3</tspan></text><text x="-3.6" y="0.0" font-size="4.4" fill="#8a8a8a" transform="rotate(-90 -3.6 0.0)" text-anchor="middle">10<tspan font-size="3" dy="-1.6">4</tspan></text><text x="88.3" y="82.9" font-size="4.4" fill="#8a8a8a" text-anchor="middle">10<tspan font-size="3" dy="-1.6">4</tspan></text></g><g transform="translate(86.00,609.70)"><filter id="gr20" filterUnits="userSpaceOnUse" x="0" y="0" width="87.5" height="77.7" color-interpolation-filters="sRGB"><feComponentTransfer in="SourceGraphic" result="h"><feFuncA type="table" tableValues="0 0.225 0.325 0.425 0.525 0.625 0.725 0.825 0.925 1.000 1.000"/></feComponentTransfer><feTurbulence type="fractalNoise" baseFrequency="2.9" numOctaves="1" seed="19" result="t"/><feColorMatrix in="t" type="matrix" values="0 0 0 0 0 0 0 0 0 0 0 0 0 0 0 1 0 0 0 0" result="n0"/><feComponentTransfer in="n0" result="n"><feFuncA type="table" tableValues="0.000 0.000 0.000 0.000 0.000 0.000 0.000 0.001 0.002 0.005 0.009 0.017 0.030 0.049 0.079 0.119 0.173 0.240 0.319 0.407 0.500 0.593 0.681 0.760 0.827 0.881 0.921 0.951 0.970 0.983 0.991 0.995 0.998 0.999 1.000 1.000 1.000 1.000 1.000 1.000 1.000"/></feComponentTransfer><feComposite in="h" in2="n" operator="arithmetic" k1="0" k2="4.0" k3="4.0" k4="-4.0" result="d"/><feComposite in="d" in2="SourceGraphic" operator="arithmetic" k1="0" k2="0.32" k3="0.68" k4="0" result="m"/><feGaussianBlur in="m" stdDeviation="0.5"/></filter><g transform="translate(0.00,0.30)"><g clip-path="url(#pc)" filter="url(#gr20)"><ellipse cx="31.9" cy="30.7" rx="27.6" ry="13.6" fill="url(#d12)" transform="rotate(0 31.9 30.7)"/><ellipse cx="10.5" cy="31.1" rx="21.4" ry="13.6" fill="url(#d6)" transform="rotate(0 10.5 31.1)"/><ellipse cx="64.1" cy="26.8" rx="24.5" ry="24.5" fill="url(#d7)" transform="rotate(0 64.1 26.8)"/><ellipse cx="35.4" cy="55.2" rx="13.8" ry="19.0" fill="url(#d9)" transform="rotate(-35 35.4 55.2)"/><ellipse cx="63.0" cy="60.6" rx="39.8" ry="38.1" fill="url(#d3)" transform="rotate(0 63.0 60.6)"/><ellipse cx="33.2" cy="63.7" rx="45.9" ry="27.2" fill="url(#d3)" transform="rotate(0 33.2 63.7)"/><rect x="0" y="0" width="87.5" height="77.7" fill="url(#bgg)"/></g></g><rect x="0" y="0" width="87.5" height="77.7" fill="none" stroke="#a8a8a8" stroke-width="1.3"/><path d="M0.3 0V77.4H87.5" fill="none" stroke="#6a6a6a" stroke-width="1.2" stroke-dasharray="1.5 0.8"/><path d="M48.7 0V77.7M0 42.85H87.5" stroke="#7a7a7a" stroke-width="1" fill="none"/><text x="-3.6" y="77.7" font-size="4.4" fill="#8a8a8a" transform="rotate(-90 -3.6 77.7)" text-anchor="middle">10<tspan font-size="3" dy="-1.6">0</tspan></text><text x="0.8" y="82.9" font-size="4.4" fill="#8a8a8a" text-anchor="middle">10<tspan font-size="3" dy="-1.6">0</tspan></text><text x="-3.6" y="58.3" font-size="4.4" fill="#8a8a8a" transform="rotate(-90 -3.6 58.3)" text-anchor="middle">10<tspan font-size="3" dy="-1.6">1</tspan></text><text x="22.7" y="82.9" font-size="4.4" fill="#8a8a8a" text-anchor="middle">10<tspan font-size="3" dy="-1.6">1</tspan></text><text x="-3.6" y="38.9" font-size="4.4" fill="#8a8a8a" transform="rotate(-90 -3.6 38.9)" text-anchor="middle">10<tspan font-size="3" dy="-1.6">2</tspan></text><text x="44.5" y="82.9" font-size="4.4" fill="#8a8a8a" text-anchor="middle">10<tspan font-size="3" dy="-1.6">2</tspan></text><text x="-3.6" y="19.4" font-size="4.4" fill="#8a8a8a" transform="rotate(-90 -3.6 19.4)" text-anchor="middle">10<tspan font-size="3" dy="-1.6">3</tspan></text><text x="66.4" y="82.9" font-size="4.4" fill="#8a8a8a" text-anchor="middle">10<tspan font-size="3" dy="-1.6">3</tspan></text><text x="-3.6" y="0.0" font-size="4.4" fill="#8a8a8a" transform="rotate(-90 -3.6 0.0)" text-anchor="middle">10<tspan font-size="3" dy="-1.6">4</tspan></text><text x="88.3" y="82.9" font-size="4.4" fill="#8a8a8a" text-anchor="middle">10<tspan font-size="3" dy="-1.6">4</tspan></text></g><g transform="translate(188.80,609.70)"><filter id="gr21" filterUnits="userSpaceOnUse" x="0" y="0" width="87.5" height="77.7" color-interpolation-filters="sRGB"><feComponentTransfer in="SourceGraphic" result="h"><feFuncA type="table" tableValues="0 0.225 0.325 0.425 0.525 0.625 0.725 0.825 0.925 1.000 1.000"/></feComponentTransfer><feTurbulence type="fractalNoise" baseFrequency="2.9" numOctaves="1" seed="20" result="t"/><feColorMatrix in="t" type="matrix" values="0 0 0 0 0 0 0 0 0 0 0 0 0 0 0 1 0 0 0 0" result="n0"/><feComponentTransfer in="n0" result="n"><feFuncA type="table" tableValues="0.000 0.000 0.000 0.000 0.000 0.000 0.000 0.001 0.002 0.005 0.009 0.017 0.030 0.049 0.079 0.119 0.173 0.240 0.319 0.407 0.500 0.593 0.681 0.760 0.827 0.881 0.921 0.951 0.970 0.983 0.991 0.995 0.998 0.999 1.000 1.000 1.000 1.000 1.000 1.000 1.000"/></feComponentTransfer><feComposite in="h" in2="n" operator="arithmetic" k1="0" k2="4.0" k3="4.0" k4="-4.0" result="d"/><feComposite in="d" in2="SourceGraphic" operator="arithmetic" k1="0" k2="0.32" k3="0.68" k4="0" result="m"/><feGaussianBlur in="m" stdDeviation="0.5"/></filter><g transform="translate(0.20,0.30)"><g clip-path="url(#pc)" filter="url(#gr21)"><ellipse cx="31.9" cy="31.1" rx="21.4" ry="12.2" fill="url(#d10)" transform="rotate(0 31.9 31.1)"/><ellipse cx="13.1" cy="31.1" rx="24.5" ry="13.6" fill="url(#d5)" transform="rotate(0 13.1 31.1)"/><ellipse cx="59.5" cy="26.8" rx="21.4" ry="21.8" fill="url(#d11)" transform="rotate(0 59.5 26.8)"/><ellipse cx="33.7" cy="55.2" rx="30.6" ry="10.9" fill="url(#d10)" transform="rotate(-35 33.7 55.2)"/><ellipse cx="59.5" cy="60.6" rx="12.2" ry="38.1" fill="url(#d8)" transform="rotate(0 59.5 60.6)"/><ellipse cx="63.0" cy="55.9" rx="36.8" ry="40.8" fill="url(#d3)" transform="rotate(0 63.0 55.9)"/><rect x="0" y="0" width="87.5" height="77.7" fill="url(#bgg)"/></g></g><rect x="0" y="0" width="87.5" height="77.7" fill="none" stroke="#a8a8a8" stroke-width="1.3"/><path d="M0.3 0V77.4H87.5" fill="none" stroke="#6a6a6a" stroke-width="1.2" stroke-dasharray="1.5 0.8"/><path d="M48.7 0V77.7M0 42.85H87.5" stroke="#7a7a7a" stroke-width="1" fill="none"/><text x="-3.6" y="77.7" font-size="4.4" fill="#8a8a8a" transform="rotate(-90 -3.6 77.7)" text-anchor="middle">10<tspan font-size="3" dy="-1.6">0</tspan></text><text x="0.8" y="82.9" font-size="4.4" fill="#8a8a8a" text-anchor="middle">10<tspan font-size="3" dy="-1.6">0</tspan></text><text x="-3.6" y="58.3" font-size="4.4" fill="#8a8a8a" transform="rotate(-90 -3.6 58.3)" text-anchor="middle">10<tspan font-size="3" dy="-1.6">1</tspan></text><text x="22.7" y="82.9" font-size="4.4" fill="#8a8a8a" text-anchor="middle">10<tspan font-size="3" dy="-1.6">1</tspan></text><text x="-3.6" y="38.9" font-size="4.4" fill="#8a8a8a" transform="rotate(-90 -3.6 38.9)" text-anchor="middle">10<tspan font-size="3" dy="-1.6">2</tspan></text><text x="44.5" y="82.9" font-size="4.4" fill="#8a8a8a" text-anchor="middle">10<tspan font-size="3" dy="-1.6">2</tspan></text><text x="-3.6" y="19.4" font-size="4.4" fill="#8a8a8a" transform="rotate(-90 -3.6 19.4)" text-anchor="middle">10<tspan font-size="3" dy="-1.6">3</tspan></text><text x="66.4" y="82.9" font-size="4.4" fill="#8a8a8a" text-anchor="middle">10<tspan font-size="3" dy="-1.6">3</tspan></text><text x="-3.6" y="0.0" font-size="4.4" fill="#8a8a8a" transform="rotate(-90 -3.6 0.0)" text-anchor="middle">10<tspan font-size="3" dy="-1.6">4</tspan></text><text x="88.3" y="82.9" font-size="4.4" fill="#8a8a8a" text-anchor="middle">10<tspan font-size="3" dy="-1.6">4</tspan></text></g><g transform="translate(291.60,609.70)"><filter id="gr22" filterUnits="userSpaceOnUse" x="0" y="0" width="87.5" height="77.7" color-interpolation-filters="sRGB"><feComponentTransfer in="SourceGraphic" result="h"><feFuncA type="table" tableValues="0 0.225 0.325 0.425 0.525 0.625 0.725 0.825 0.925 1.000 1.000"/></feComponentTransfer><feTurbulence type="fractalNoise" baseFrequency="2.9" numOctaves="1" seed="21" result="t"/><feColorMatrix in="t" type="matrix" values="0 0 0 0 0 0 0 0 0 0 0 0 0 0 0 1 0 0 0 0" result="n0"/><feComponentTransfer in="n0" result="n"><feFuncA type="table" tableValues="0.000 0.000 0.000 0.000 0.000 0.000 0.000 0.001 0.002 0.005 0.009 0.017 0.030 0.049 0.079 0.119 0.173 0.240 0.319 0.407 0.500 0.593 0.681 0.760 0.827 0.881 0.921 0.951 0.970 0.983 0.991 0.995 0.998 0.999 1.000 1.000 1.000 1.000 1.000 1.000 1.000"/></feComponentTransfer><feComposite in="h" in2="n" operator="arithmetic" k1="0" k2="4.0" k3="4.0" k4="-4.0" result="d"/><feComposite in="d" in2="SourceGraphic" operator="arithmetic" k1="0" k2="0.32" k3="0.68" k4="0" result="m"/><feGaussianBlur in="m" stdDeviation="0.5"/></filter><g transform="translate(0.40,0.30)"><g clip-path="url(#pc)" filter="url(#gr22)"><ellipse cx="30.6" cy="31.1" rx="36.8" ry="19.0" fill="url(#d4)" transform="rotate(0 30.6 31.1)"/><ellipse cx="59.5" cy="23.3" rx="18.4" ry="17.7" fill="url(#d12)" transform="rotate(0 59.5 23.3)"/><ellipse cx="32.8" cy="55.2" rx="21.4" ry="9.5" fill="url(#d12)" transform="rotate(-35 32.8 55.2)"/><ellipse cx="58.6" cy="59.8" rx="12.2" ry="40.8" fill="url(#d9)" transform="rotate(0 58.6 59.8)"/><ellipse cx="57.8" cy="38.9" rx="18.4" ry="21.8" fill="url(#d7)" transform="rotate(0 57.8 38.9)"/><ellipse cx="65.6" cy="58.3" rx="36.8" ry="40.8" fill="url(#d2)" transform="rotate(0 65.6 58.3)"/><rect x="0" y="0" width="87.5" height="77.7" fill="url(#bgg)"/></g></g><rect x="0" y="0" width="87.5" height="77.7" fill="none" stroke="#a8a8a8" stroke-width="1.3"/><path d="M0.3 0V77.4H87.5" fill="none" stroke="#6a6a6a" stroke-width="1.2" stroke-dasharray="1.5 0.8"/><path d="M48.7 0V77.7M0 42.85H87.5" stroke="#7a7a7a" stroke-width="1" fill="none"/><text x="-3.6" y="77.7" font-size="4.4" fill="#8a8a8a" transform="rotate(-90 -3.6 77.7)" text-anchor="middle">10<tspan font-size="3" dy="-1.6">0</tspan></text><text x="0.8" y="82.9" font-size="4.4" fill="#8a8a8a" text-anchor="middle">10<tspan font-size="3" dy="-1.6">0</tspan></text><text x="-3.6" y="58.3" font-size="4.4" fill="#8a8a8a" transform="rotate(-90 -3.6 58.3)" text-anchor="middle">10<tspan font-size="3" dy="-1.6">1</tspan></text><text x="22.7" y="82.9" font-size="4.4" fill="#8a8a8a" text-anchor="middle">10<tspan font-size="3" dy="-1.6">1</tspan></text><text x="-3.6" y="38.9" font-size="4.4" fill="#8a8a8a" transform="rotate(-90 -3.6 38.9)" text-anchor="middle">10<tspan font-size="3" dy="-1.6">2</tspan></text><text x="44.5" y="82.9" font-size="4.4" fill="#8a8a8a" text-anchor="middle">10<tspan font-size="3" dy="-1.6">2</tspan></text><text x="-3.6" y="19.4" font-size="4.4" fill="#8a8a8a" transform="rotate(-90 -3.6 19.4)" text-anchor="middle">10<tspan font-size="3" dy="-1.6">3</tspan></text><text x="66.4" y="82.9" font-size="4.4" fill="#8a8a8a" text-anchor="middle">10<tspan font-size="3" dy="-1.6">3</tspan></text><text x="-3.6" y="0.0" font-size="4.4" fill="#8a8a8a" transform="rotate(-90 -3.6 0.0)" text-anchor="middle">10<tspan font-size="3" dy="-1.6">4</tspan></text><text x="88.3" y="82.9" font-size="4.4" fill="#8a8a8a" text-anchor="middle">10<tspan font-size="3" dy="-1.6">4</tspan></text></g><g transform="translate(394.40,609.70)"><filter id="gr23" filterUnits="userSpaceOnUse" x="0" y="0" width="87.5" height="77.7" color-interpolation-filters="sRGB"><feComponentTransfer in="SourceGraphic" result="h"><feFuncA type="table" tableValues="0 0.225 0.325 0.425 0.525 0.625 0.725 0.825 0.925 1.000 1.000"/></feComponentTransfer><feTurbulence type="fractalNoise" baseFrequency="2.9" numOctaves="1" seed="22" result="t"/><feColorMatrix in="t" type="matrix" values="0 0 0 0 0 0 0 0 0 0 0 0 0 0 0 1 0 0 0 0" result="n0"/><feComponentTransfer in="n0" result="n"><feFuncA type="table" tableValues="0.000 0.000 0.000 0.000 0.000 0.000 0.000 0.001 0.002 0.005 0.009 0.017 0.030 0.049 0.079 0.119 0.173 0.240 0.319 0.407 0.500 0.593 0.681 0.760 0.827 0.881 0.921 0.951 0.970 0.983 0.991 0.995 0.998 0.999 1.000 1.000 1.000 1.000 1.000 1.000 1.000"/></feComponentTransfer><feComposite in="h" in2="n" operator="arithmetic" k1="0" k2="4.0" k3="4.0" k4="-4.0" result="d"/><feComposite in="d" in2="SourceGraphic" operator="arithmetic" k1="0" k2="0.32" k3="0.68" k4="0" result="m"/><feGaussianBlur in="m" stdDeviation="0.5"/></filter><g transform="translate(-0.40,0.30)"><g clip-path="url(#pc)" filter="url(#gr23)"><ellipse cx="30.6" cy="31.1" rx="36.8" ry="19.0" fill="url(#d2)" transform="rotate(0 30.6 31.1)"/><ellipse cx="57.8" cy="23.3" rx="16.8" ry="16.3" fill="url(#d13)" transform="rotate(0 57.8 23.3)"/><ellipse cx="33.7" cy="54.4" rx="15.3" ry="8.2" fill="url(#d12)" transform="rotate(-35 33.7 54.4)"/><ellipse cx="58.6" cy="59.8" rx="12.2" ry="43.5" fill="url(#d10)" transform="rotate(0 58.6 59.8)"/><ellipse cx="50.8" cy="35.0" rx="18.4" ry="21.8" fill="url(#d7)" transform="rotate(0 50.8 35.0)"/><ellipse cx="63.0" cy="58.3" rx="36.8" ry="40.8" fill="url(#d3)" transform="rotate(0 63.0 58.3)"/><rect x="0" y="0" width="87.5" height="77.7" fill="url(#bgg)"/></g></g><rect x="0" y="0" width="87.5" height="77.7" fill="none" stroke="#a8a8a8" stroke-width="1.3"/><path d="M0.3 0V77.4H87.5" fill="none" stroke="#6a6a6a" stroke-width="1.2" stroke-dasharray="1.5 0.8"/><path d="M48.7 0V77.7M0 42.85H87.5" stroke="#7a7a7a" stroke-width="1" fill="none"/><text x="-3.6" y="77.7" font-size="4.4" fill="#8a8a8a" transform="rotate(-90 -3.6 77.7)" text-anchor="middle">10<tspan font-size="3" dy="-1.6">0</tspan></text><text x="0.8" y="82.9" font-size="4.4" fill="#8a8a8a" text-anchor="middle">10<tspan font-size="3" dy="-1.6">0</tspan></text><text x="-3.6" y="58.3" font-size="4.4" fill="#8a8a8a" transform="rotate(-90 -3.6 58.3)" text-anchor="middle">10<tspan font-size="3" dy="-1.6">1</tspan></text><text x="22.7" y="82.9" font-size="4.4" fill="#8a8a8a" text-anchor="middle">10<tspan font-size="3" dy="-1.6">1</tspan></text><text x="-3.6" y="38.9" font-size="4.4" fill="#8a8a8a" transform="rotate(-90 -3.6 38.9)" text-anchor="middle">10<tspan font-size="3" dy="-1.6">2</tspan></text><text x="44.5" y="82.9" font-size="4.4" fill="#8a8a8a" text-anchor="middle">10<tspan font-size="3" dy="-1.6">2</tspan></text><text x="-3.6" y="19.4" font-size="4.4" fill="#8a8a8a" transform="rotate(-90 -3.6 19.4)" text-anchor="middle">10<tspan font-size="3" dy="-1.6">3</tspan></text><text x="66.4" y="82.9" font-size="4.4" fill="#8a8a8a" text-anchor="middle">10<tspan font-size="3" dy="-1.6">3</tspan></text><text x="-3.6" y="0.0" font-size="4.4" fill="#8a8a8a" transform="rotate(-90 -3.6 0.0)" text-anchor="middle">10<tspan font-size="3" dy="-1.6">4</tspan></text><text x="88.3" y="82.9" font-size="4.4" fill="#8a8a8a" text-anchor="middle">10<tspan font-size="3" dy="-1.6">4</tspan></text></g><text x="109.2" y="405.5" font-size="16">DMSO</text><text x="213.0" y="405.5" font-size="16">1 μM</text><text x="320.5" y="405.5" font-size="16">5 μM</text><text x="413.0" y="405.5" font-size="16">10 μM</text><text x="488.1" y="463.4" font-size="16">48 h</text><text x="488.1" y="557.8" font-size="16">72 h</text><text x="490.3" y="656.2" font-size="16">96 h</text><path d="M65.9 423V688.8" stroke="#2a2a2a" stroke-width="1.6" fill="none"/><path d="M66 413.6L71.3 423.6H60.7Z" fill="#000"/><path d="M80 705.3H477" stroke="#2a2a2a" stroke-width="1.6" fill="none"/><path d="M486.5 705.4L476 700.6V710.2Z" fill="#000"/><text x="58.6" y="552" font-size="16" transform="rotate(-90 58.6 552)" text-anchor="middle">CD34</text><text x="250" y="724" font-size="16">Annexin V</text>
</svg>
</body></html>
